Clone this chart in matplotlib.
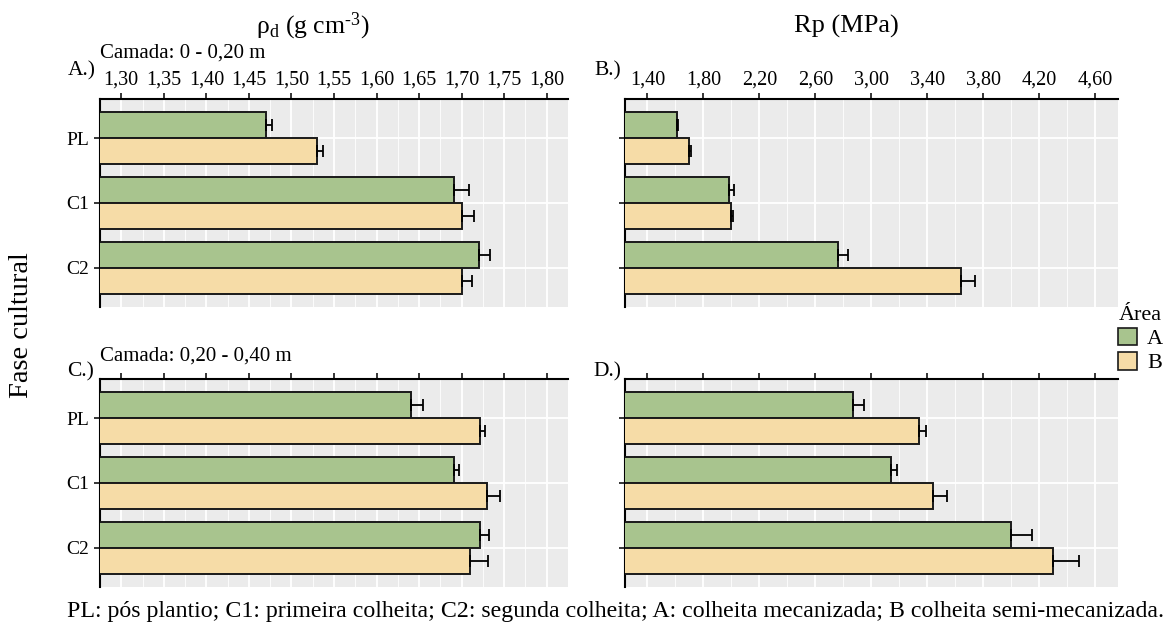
import matplotlib
matplotlib.use("Agg")
import matplotlib.pyplot as plt
import numpy as np
from matplotlib.patches import Patch

plt.rcParams["font.family"] = ["Liberation Serif", "DejaVu Serif"]
plt.rcParams["mathtext.fontset"] = "custom"
plt.rcParams["mathtext.rm"] = "Liberation Serif"
plt.rcParams["mathtext.it"] = "Liberation Serif:italic"

fases = ["PL", "C1", "C2"]
areas = ["A", "B"]

# densidade do solo (g cm-3), camada 0-0,20 m
rho_top_a = [1.470, 1.691, 1.720]
rho_top_a_err = [0.007, 0.018, 0.013]
rho_top_b = [1.530, 1.700, 1.700]
rho_top_b_err = [0.007, 0.014, 0.012]

# densidade do solo (g cm-3), camada 0,20-0,40 m
rho_bot_a = [1.640, 1.691, 1.721]
rho_bot_a_err = [0.015, 0.006, 0.011]
rho_bot_b = [1.721, 1.730, 1.710]
rho_bot_b_err = [0.007, 0.015, 0.021]

# resistencia a penetracao (MPa), camada 0-0,20 m
rp_top_a = [1.608, 1.986, 2.765]
rp_top_a_err = [0.012, 0.030, 0.070]
rp_top_b = [1.697, 1.997, 3.638]
rp_top_b_err = [0.012, 0.018, 0.100]

# resistencia a penetracao (MPa), camada 0,20-0,40 m
rp_bot_a = [2.868, 3.138, 3.997]
rp_bot_a_err = [0.083, 0.043, 0.152]
rp_bot_b = [3.341, 3.438, 4.297]
rp_bot_b_err = [0.046, 0.100, 0.187]

rho_ticks = [1.30, 1.35, 1.40, 1.45, 1.50, 1.55, 1.60, 1.65, 1.70, 1.75, 1.80]
rp_ticks = [1.40, 1.80, 2.20, 2.60, 3.00, 3.40, 3.80, 4.20, 4.60]

GREEN = "#a8c48e"
BEIGE = "#f6dca7"
EDGE = "#1a1a1a"
BG = "#ebebeb"
W = 1173
H = 623


def fmt(v):
    return f"{v:.2f}".replace(".", ",")


def panel(rect, a, a_err, b, b_err, ticks, xlim, show_x, show_y):
    ax = fig.add_axes(rect)
    ax.set_facecolor(BG)
    y = np.arange(len(fases))
    h = 0.4
    for vals, errs, off, col in [(a, a_err, -h / 2, GREEN), (b, b_err, h / 2, BEIGE)]:
        ax.barh(y + off, vals, height=h, left=0, color=col, edgecolor=EDGE,
                linewidth=1.4, zorder=3)
        ax.errorbar(vals, y + off, xerr=[np.zeros(len(vals)), errs], fmt="none",
                    ecolor="black", elinewidth=1.3, capsize=4, capthick=1.3, zorder=4)
    ax.set_xlim(*xlim)
    ax.set_ylim(2.6, -0.6)
    step = ticks[1] - ticks[0]
    ax.xaxis.set_major_locator(plt.FixedLocator(ticks))
    ax.xaxis.set_minor_locator(plt.FixedLocator(
        [t + step / 2 for t in [ticks[0] - step] + ticks]))
    ax.set_yticks(y)
    ax.xaxis.tick_top()
    ax.set_xticklabels([fmt(t) for t in ticks] if show_x else [])
    ax.set_yticklabels(fases if show_y else [])
    ax.tick_params(axis="both", which="major", direction="out", length=4.5,
                   width=1.1, color="black", labelcolor="black", pad=2.5)
    ax.tick_params(axis="x", which="major", labelsize=14.5)
    ax.tick_params(axis="y", which="major", labelsize=14, pad=3.5)
    ax.tick_params(axis="x", which="minor", length=0)
    ax.grid(which="major", color="white", linewidth=1.3, zorder=0)
    ax.grid(which="minor", axis="x", color="white", linewidth=0.6, zorder=0)
    ax.set_axisbelow(True)
    for s in ("right", "bottom"):
        ax.spines[s].set_visible(False)
    for s in ("top", "left"):
        ax.spines[s].set_linewidth(1.5)
        ax.spines[s].set_color("black")
    return ax


fig = plt.figure(figsize=(W / 100, H / 100), dpi=100)

left_x, left_w = 100 / W, 468 / W
right_x, right_w = 625 / W, 492.7 / W
top_y, bot_y, ph = (H - 306.7) / H, (H - 586.7) / H, 207.5 / H

panel([left_x, top_y, left_w, ph], rho_top_a, rho_top_a_err, rho_top_b, rho_top_b_err,
      rho_ticks, (1.275, 1.825), True, True)
panel([right_x, top_y, right_w, ph], rp_top_a, rp_top_a_err, rp_top_b, rp_top_b_err,
      rp_ticks, (1.24, 4.76), True, False)
panel([left_x, bot_y, left_w, ph], rho_bot_a, rho_bot_a_err, rho_bot_b, rho_bot_b_err,
      rho_ticks, (1.275, 1.825), False, True)
panel([right_x, bot_y, right_w, ph], rp_bot_a, rp_bot_a_err, rp_bot_b, rp_bot_b_err,
      rp_ticks, (1.24, 4.76), False, False)


def fx(px):
    return px / W


def fy(py):
    return 1 - py / H


fig.text(fx(313), fy(26), r"ρ$_{\mathrm{d}}$ (g cm$^{\text{-3}}$)", fontsize=18.5,
         ha="center", va="center")
fig.text(fx(846), fy(26), "Rp (MPa)", fontsize=19, ha="center", va="center")
fig.text(fx(100), fy(53), "Camada: 0 - 0,20 m", fontsize=15, ha="left", va="center")
fig.text(fx(100), fy(356), "Camada: 0,20 - 0,40 m", fontsize=15, ha="left", va="center")
fig.text(fx(96), fy(71), "A.)", fontsize=15.5, ha="right", va="center")
fig.text(fx(621), fy(71), "B.)", fontsize=15.5, ha="right", va="center")
fig.text(fx(94), fy(372), "C.)", fontsize=15.5, ha="right", va="center")
fig.text(fx(621), fy(372), "D.)", fontsize=15.5, ha="right", va="center")
fig.text(fx(22), fy(325), "Fase cultural", fontsize=20.5, rotation=90,
         ha="center", va="center")
fig.text(fx(616), fy(611),
         "PL: pós plantio; C1: primeira colheita; C2: segunda colheita; "
         "A: colheita mecanizada; B colheita semi-mecanizada.",
         fontsize=17.2, ha="center", va="center")

handles = [Patch(facecolor=c, edgecolor=EDGE, linewidth=1.2) for c in (GREEN, BEIGE)]
fig.legend(handles, areas, title="Área", loc="upper left",
           bbox_to_anchor=(fx(1118), fy(306)), frameon=False, fontsize=16,
           title_fontsize=16, handlelength=0.85, handleheight=0.85,
           handletextpad=0.45, labelspacing=0.12, borderaxespad=0, borderpad=0)

fig.savefig("out.png", dpi=100)
